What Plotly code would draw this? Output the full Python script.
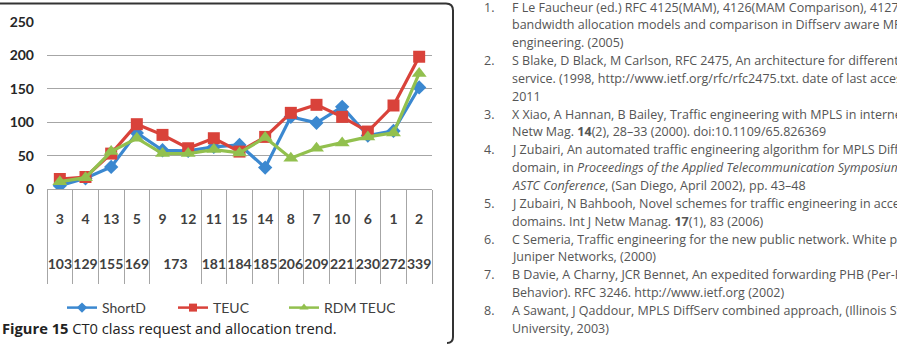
import plotly.graph_objects as go

# ---------------- data ----------------
node_ids = ["3", "4", "13", "5", "9", "12", "11", "15", "14", "8", "7", "10", "6", "1", "2"]
request_bw = ["103", "129", "155", "169", "173", "173", "181", "184", "185", "206", "209", "221", "230", "272", "339"]
shortd = [5, 16, 33, 84, 58, 57, 63, 66, 32, 108, 99, 123, 80, 87, 152]
teuc = [15, 18, 53, 97, 81, 61, 76, 56, 78, 114, 126, 108, 86, 125, 198]
rdm_teuc = [11, 17, 56, 76, 53, 53, 59, 54, 77, 46, 61, 69, 78, 84, 173]
series_names = ["ShortD", "TEUC", "RDM TEUC"]
y_ticks = [0, 50, 100, 150, 200, 250]

ref_numbers = ["1.", "", "", "2.", "", "", "3.", "", "4.", "", "", "5.", "", "6.", "", "7.", "", "8.", ""]
ref_lines = [
    "F Le Faucheur (ed.) RFC 4125(MAM), 4126(MAM Comparison), 4127(RDM) -",
    "bandwidth allocation models and comparison in Diffserv aware MPLS traffic",
    "engineering. (2005)",
    "S Blake, D Black, M Carlson, RFC 2475, An architecture for differentiated",
    "service. (1998, http://www.ietf.org/rfc/rfc2475.txt. date of last accessed May",
    "2011",
    "X Xiao, A Hannan, B Bailey, Traffic engineering with MPLS in internet. IEEE",
    "Netw Mag. <b>14</b>(2), 28–33 (2000). doi:10.1109/65.826369",
    "J Zubairi, An automated traffic engineering algorithm for MPLS DiffServ",
    "domain, in <i>Proceedings of the Applied Telecommunication Symposium</i>",
    "<i>ASTC Conference</i>, (San Diego, April 2002), pp. 43–48",
    "J Zubairi, N Bahbooh, Novel schemes for traffic engineering in access",
    "domains. Int J Netw Manag. <b>17</b>(1), 83 (2006)",
    "C Semeria, Traffic engineering for the new public network. White paper.",
    "Juniper Networks, (2000)",
    "B Davie, A Charny, JCR Bennet, An expedited forwarding PHB (Per-Hop",
    "Behavior). RFC 3246. http://www.ietf.org (2002)",
    "A Sawant, J Qaddour, MPLS DiffServ combined approach, (Illinois State",
    "University, 2003)",
]
caption = "<b>Figure 15</b> CT0 class request and allocation trend."

# ---------------- layout helpers ----------------
W, H = 897, 344
L, R, T, B = 47, 465, 22, 155
PW, PH = W - L - R, H - T - B


def px(x):
    return (x - L) / PW


def py(y):
    return (H - B - y) / PH


n = len(node_ids)
x_range = [-0.5, n - 0.5]

# groups of the outer (request) level: centres for labels, boundaries for dividers
groups = []
for i, v in enumerate(request_bw):
    if groups and groups[-1][0] == v:
        groups[-1][2] = i
    else:
        groups.append([v, i, i])
group_labels = [g[0] for g in groups]
group_centres = [(g[1] + g[2]) / 2 for g in groups]
group_bounds = [g[1] - 0.5 for g in groups] + [groups[-1][2] + 0.5]

colors = ["#3b88d0", "#d9423a", "#92c04e"]
symbols = ["diamond", "square", "triangle-up"]
sizes = [11, 12, 13]
values = [shortd, teuc, rdm_teuc]

fig = go.Figure()
for name, vals, col, sym, sz in zip(series_names, values, colors, symbols, sizes):
    fig.add_trace(go.Scatter(
        x=node_ids, y=vals, name=name, mode="lines+markers", showlegend=False,
        line=dict(color=col, width=3.2),
        marker=dict(symbol=sym, size=sz, color=col),
    ))
# legend entries (smaller symbols, as in the original legend)
for name, col, sym in zip(series_names, colors, symbols):
    fig.add_trace(go.Scatter(
        x=[None], y=[None], name=name, mode="lines+markers",
        line=dict(color=col, width=2.5),
        marker=dict(symbol=sym, size=8, color=col),
    ))
# helper traces so the overlay axes (dividers, outer labels) are drawn
for ax in ["x2", "x3"]:
    fig.add_trace(go.Scatter(x=[None], y=[None], xaxis=ax, yaxis="y",
                             showlegend=False, hoverinfo="skip"))

annotations = []
for i, (num, txt) in enumerate(zip(ref_numbers, ref_lines)):
    yy = 7 + 17.85 * i
    if num:
        annotations.append(dict(
            x=px(482), y=py(yy), xref="paper", yref="paper", text=num,
            xanchor="left", yanchor="middle", showarrow=False,
            font=dict(family="Open Sans", size=12.5, color="#555555"),
        ))
    annotations.append(dict(
        x=px(510), y=py(yy), xref="paper", yref="paper", text=txt,
        xanchor="left", yanchor="middle", showarrow=False, align="left",
        font=dict(family="Open Sans", size=12.5, color="#555555"),
    ))

annotations.append(dict(
    x=px(0), y=py(328), xref="paper", yref="paper", text=caption,
    xanchor="left", yanchor="middle", showarrow=False, align="left",
    font=dict(family="Open Sans", size=14.7, color="#222222"),
))

frame_path = (
    f"M {px(0)},{py(3.5)} L {px(446)},{py(3.5)} "
    f"Q {px(453)},{py(3.5)} {px(453)},{py(10.5)} "
    f"L {px(453)},{py(337)} Q {px(453)},{py(343)} {px(447)},{py(343)}"
)

tick_font = dict(family="Lato", size=14, color="#404040", weight="bold")
GRID = "#a6a6a6"

fig.update_layout(
    width=W, height=H,
    margin=dict(l=L, r=R, t=T, b=B, pad=0, autoexpand=False),
    paper_bgcolor="white", plot_bgcolor="white",
    showlegend=True,
    legend=dict(
        orientation="h", x=px(62), xanchor="left", y=py(292), yanchor="top",
        font=dict(family="Lato", size=14, color="#404040"),
        bgcolor="rgba(0,0,0,0)", tracegroupgap=0,
        entrywidth=66, entrywidthmode="pixels",
    ),
    xaxis=dict(
        type="category", range=x_range, showgrid=False, zeroline=False,
        showline=True, linecolor=GRID, linewidth=1,
        ticks="", ticklabelstandoff=17, tickangle=0, tickfont=tick_font,
    ),
    xaxis2=dict(
        overlaying="x", anchor="y", side="bottom", type="linear", range=x_range,
        showgrid=False, zeroline=False, showline=False,
        tickmode="array", tickvals=group_bounds, showticklabels=False,
        ticks="outside", ticklen=94, tickwidth=1, tickcolor=GRID,
    ),
    xaxis3=dict(
        overlaying="x", anchor="y", side="bottom", type="linear", range=x_range,
        showgrid=False, zeroline=False, showline=False,
        tickmode="array", tickvals=group_centres, ticktext=group_labels,
        ticks="", ticklabelstandoff=65, tickangle=0, tickfont=tick_font,
    ),
    yaxis=dict(
        range=[0, 250], tickvals=y_ticks, showgrid=True, gridcolor=GRID,
        gridwidth=1, zeroline=False, showline=False, ticks="",
        ticklabelstandoff=12,
        tickfont=dict(family="Lato", size=14, color="#262626", weight="bold"),
    ),
    annotations=annotations,
    shapes=[dict(type="path", path=frame_path, xref="paper", yref="paper",
                 line=dict(color="#333333", width=2))],
)

fig.write_html("out.html")
